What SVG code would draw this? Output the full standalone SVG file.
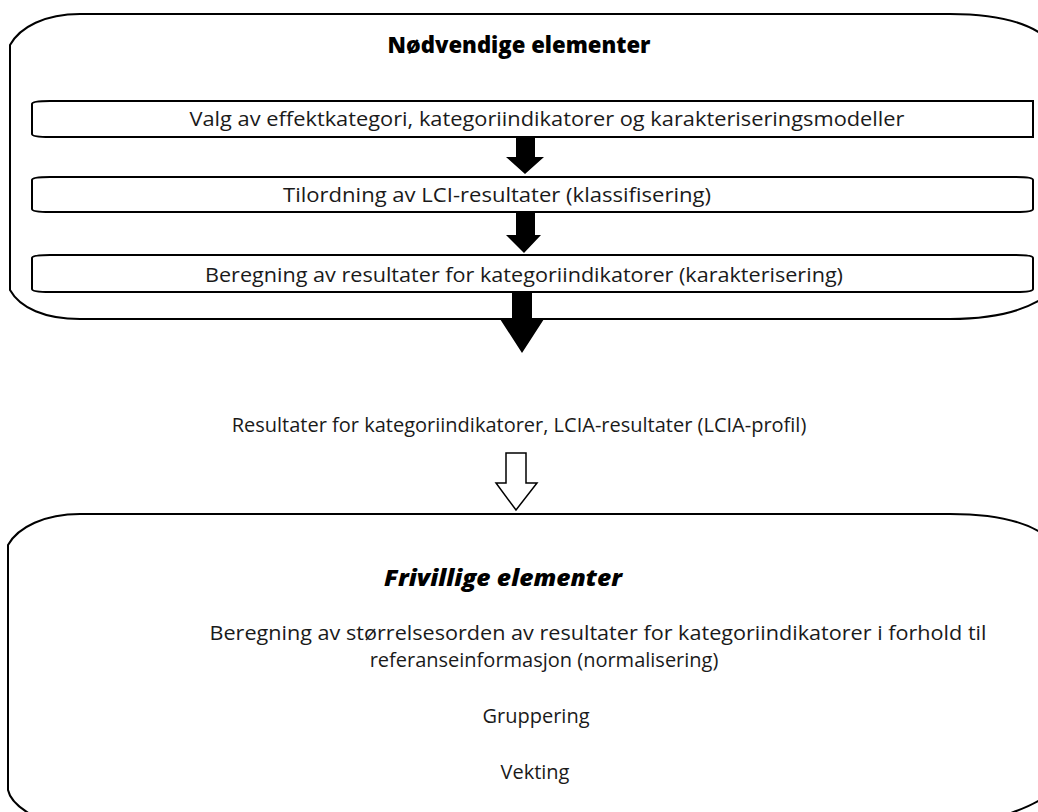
<svg xmlns="http://www.w3.org/2000/svg" width="1038" height="812" viewBox="0 0 1038 812">
  <style>
    .frame { fill: #ffffff; stroke: #000000; stroke-width: 2; }
    .step { fill: #ffffff; stroke: #000000; stroke-width: 2; }
    .t { font-family: "Open Sans", "Noto Sans", sans-serif; font-size: 20px; fill: #1a1a1a; text-anchor: middle; }
    .h { font-family: "Open Sans", "Noto Sans", sans-serif; font-size: 22px; font-weight: 800; fill: #000000; text-anchor: middle; }
    .solid { fill: #000000; stroke: none; }
    .hollow { fill: #ffffff; stroke: #000000; stroke-width: 1.5; stroke-linejoin: miter; }
  </style>

  <!-- Mandatory elements container -->
  <g id="mandatory">
    <path class="frame" d="M80,14 L950,14 C990,14 1020,20 1040,33 L1040,300 C1020,312 990,319 950,319 L80,319 C45,319 20,308 10,290 L10,45 C20,27 45,14 80,14 Z"/>
    <text class="h" x="519" y="53" textLength="263" lengthAdjust="spacingAndGlyphs">Nødvendige elementer</text>
  </g>

  <g id="step-selection">
    <path class="step" d="M50,101 L1033,101 L1033,137 L50,137 C38,137 32,136 32,134 L32,104 C32,102 38,101 50,101 Z"/>
    <text class="t" x="547" y="126" textLength="715" lengthAdjust="spacingAndGlyphs">Valg av effektkategori, kategoriindikatorer og karakteriseringsmodeller</text>
  </g>

  <g id="step-classification">
    <path class="step" d="M50,177 L1015,177 C1027,177 1033,178 1033,180 L1033,209 C1033,211 1027,212 1015,212 L50,212 C38,212 32,211 32,209 L32,180 C32,178 38,177 50,177 Z"/>
    <text class="t" x="497" y="202" textLength="428" lengthAdjust="spacingAndGlyphs">Tilordning av LCI-resultater (klassifisering)</text>
  </g>

  <g id="step-characterisation">
    <path class="step" d="M50,255 L1015,255 C1027,255 1033,256 1033,258 L1033,289 C1033,291 1027,292 1015,292 L50,292 C38,292 32,291 32,289 L32,258 C32,256 38,255 50,255 Z"/>
    <text class="t" x="524" y="282" textLength="638" lengthAdjust="spacingAndGlyphs">Beregning av resultater for kategoriindikatorer (karakterisering)</text>
  </g>

  <g id="result-profile">
    <text class="t" x="519" y="432">Resultater for kategoriindikatorer, LCIA-resultater (LCIA-profil)</text>
  </g>

  <!-- Optional elements container -->
  <g id="optional">
    <path class="frame" d="M80,514 L950,514 C990,514 1020,520 1040,532 L1040,800 C1030,806 1020,810 1008,814 L30,814 C20,808 10,800 8,790 L8,545 C18,527 45,514 80,514 Z"/>
    <text class="h" x="503" y="586" font-style="italic" textLength="238" lengthAdjust="spacingAndGlyphs">Frivillige elementer</text>
    <text class="t" x="598" y="640" textLength="777" lengthAdjust="spacingAndGlyphs">Beregning av størrelsesorden av resultater for kategoriindikatorer i forhold til</text>
    <text class="t" x="544" y="667">referanseinformasjon (normalisering)</text>
    <text class="t" x="536" y="723">Gruppering</text>
    <text class="t" x="535" y="779">Vekting</text>
  </g>

  <!-- Connectors -->
  <g id="connectors">
    <polygon class="solid" points="516,137 535,137 535,157 544,157 525,174 506,157 516,157"/>
    <polygon class="solid" points="516,212 535,212 535,235 541,235 524,253 506,235 516,235"/>
    <polygon class="solid" points="512,292 532,292 532,319 544,319 522,353 500,319 512,319"/>
    <polygon class="hollow" points="506,453 526,453 526,483 537,483 516,510 496,483 506,483"/>
  </g>
</svg>
